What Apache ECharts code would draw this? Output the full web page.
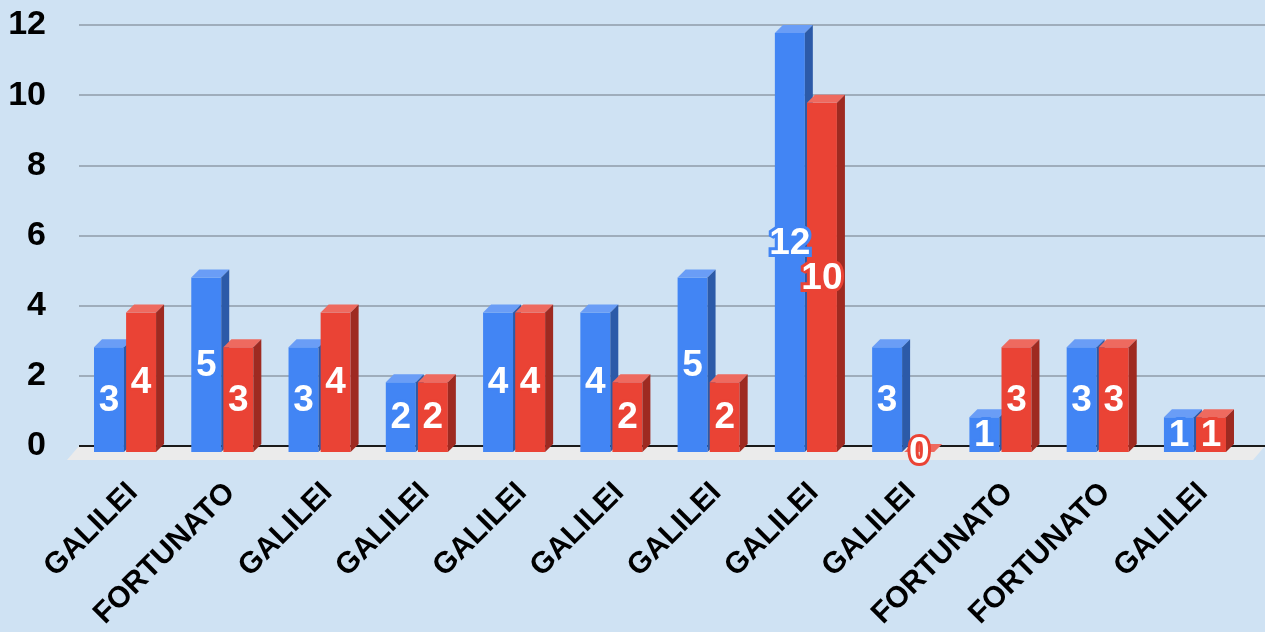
<!DOCTYPE html>
<html>
<head>
<meta charset="utf-8">
<script src="https://cdn.jsdelivr.net/npm/echarts@6/dist/echarts.min.js"></script>
<style>
html,body{margin:0;padding:0;background:#cfe2f3;}
#c{width:1265px;height:632px;}
</style>
</head>
<body>
<div id="c"></div>
<script>
const categories = ['GALILEI','FORTUNATO','GALILEI','GALILEI','GALILEI','GALILEI','GALILEI','GALILEI','GALILEI','FORTUNATO','FORTUNATO','GALILEI'];
const blueValues = [3,5,3,2,4,4,5,12,3,1,3,1];
const redValues  = [4,3,4,2,4,2,2,10,0,3,3,1];
const yTicks = [0,2,4,6,8,10,12];

const FONT = "'Liberation Sans', Arial, sans-serif";
const DEPTH = 8;
const palette = [
  {front:'#4285f4', top:'#6a9df6', side:'#2c5aa8'},
  {front:'#ea4335', top:'#ee6a5f', side:'#9e2a21'}
];

function barRenderer(sIdx){
  return function(params, api){
    const idx = api.value(0), val = api.value(1);
    const c = api.coord([idx, val]);
    const z = api.coord([idx, 0]);
    const band = api.size([1,0])[0];
    const bw = band*0.308, gap = band*0.011;
    const cx = c[0] - DEPTH;
    const x0 = sIdx===0 ? cx - gap - bw : cx + gap;
    const x1 = x0 + bw;
    const yT = c[1] + DEPTH, yB = z[1] + DEPTH;
    const col = palette[sIdx];
    return {type:'group', children:[
      {type:'rect', shape:{x:x0, y:yT, width:bw, height:yB-yT}, style:{fill:col.front}},
      {type:'polygon', shape:{points:[[x0,yT],[x1,yT],[x1+DEPTH,yT-DEPTH],[x0+DEPTH,yT-DEPTH]]}, style:{fill:col.top}},
      {type:'polygon', shape:{points:[[x1,yT],[x1+DEPTH,yT-DEPTH],[x1+DEPTH,yB-DEPTH],[x1,yB]]}, style:{fill:col.side}},
      {type:'text', z2:100, style:{x:(x0+x1)/2, y:(yT+yB)/2+1, text:String(val), align:'center', verticalAlign:'middle',
        font:'bold 37px '+FONT, fill:'#ffffff', stroke:col.front, lineWidth:6}}
    ]};
  };
}

const chart = echarts.init(document.getElementById('c'), null, {renderer:'canvas'});
chart.setOption({
  backgroundColor:'#cfe2f3',
  animation:false,
  grid:[
    {left:79, right:0, top:25, bottom:186},
    {left:84.4, right:13.4, top:25, bottom:186}
  ],
  xAxis:[
    {gridIndex:0, type:'value', min:0, max:1, show:false},
    {gridIndex:1, type:'category', data:categories,
      axisLine:{show:false}, axisTick:{show:false},
      axisLabel:{rotate:45, interval:0, margin:44, color:'#000', fontWeight:'bold', fontSize:30, fontFamily:FONT}}
  ],
  yAxis:[
    {gridIndex:0, type:'value', min:yTicks[0], max:yTicks[yTicks.length-1], interval:2,
      axisLine:{show:false}, axisTick:{show:false},
      splitLine:{lineStyle:{color:'#9fadbb', width:2}},
      axisLabel:{margin:33, color:'#000', fontWeight:'bold', fontSize:34, fontFamily:FONT}},
    {gridIndex:1, type:'value', min:0, max:12, interval:2, show:false, splitLine:{show:false}}
  ],
  series:[
    {type:'custom', xAxisIndex:0, yAxisIndex:0, z:1, silent:true, data:[[0,0]],
      renderItem:function(params, api){
        const p0 = api.coord([0,0]), p1 = api.coord([1,0]);
        return {type:'group', children:[
          {type:'polygon', shape:{points:[[p0[0],p0[1]],[p1[0],p0[1]],[p1[0]-12,p0[1]+14],[p0[0]-12,p0[1]+14]]}, style:{fill:'#ebebeb'}},
          {type:'line', shape:{x1:p0[0], y1:p0[1], x2:p1[0], y2:p0[1]}, style:{stroke:'#1a1a1a', lineWidth:2}}
        ]};
      }},
    {type:'custom', name:'A', xAxisIndex:1, yAxisIndex:1, z:2, data:blueValues.map((v,i)=>[i,v]), renderItem:barRenderer(0)},
    {type:'custom', name:'B', xAxisIndex:1, yAxisIndex:1, z:2, data:redValues.map((v,i)=>[i,v]), renderItem:barRenderer(1)}
  ]
});
</script>
</body>
</html>
